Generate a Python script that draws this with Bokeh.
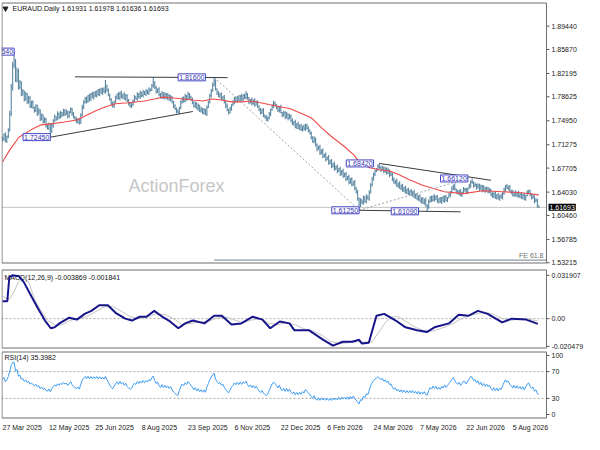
import numpy as np
from bokeh.plotting import figure
from bokeh.layouts import column
from bokeh.models import Range1d
from bokeh.core.properties import value
from bokeh.embed import file_html
from bokeh.resources import INLINE

# ---------------- data ----------------
symbol_title = "EURAUD.Daily  1.61931 1.61978 1.61636 1.61693"
macd_title = "MACD(12,26,9) -0.003869 -0.001841"
rsi_title = "RSI(14) 35.3982"
watermark = "ActionForex"

# daily closes, bar 0 = 27 Mar 2025
close = [
    1.7220, 1.7280, 1.7185, 1.7250, 1.7350, 1.7600, 1.8000, 1.8350, 1.8400, 1.8120,
    1.8260, 1.8000, 1.8080, 1.7900, 1.7950, 1.7820, 1.7900, 1.7780, 1.7850, 1.7720,
    1.7780, 1.7700, 1.7650, 1.7720, 1.7600, 1.7650, 1.7520, 1.7580, 1.7480, 1.7520,
    1.7420, 1.7380, 1.7450, 1.7330, 1.7420, 1.7500, 1.7560, 1.7520, 1.7600, 1.7550,
    1.7620, 1.7580, 1.7650, 1.7600, 1.7630, 1.7560, 1.7620, 1.7680, 1.7600, 1.7550,
    1.7520, 1.7480, 1.7520, 1.7460, 1.7580, 1.7700, 1.7780, 1.7840, 1.7790, 1.7880,
    1.7820, 1.7900, 1.7850, 1.7920, 1.7880, 1.7950, 1.7900, 1.7970, 1.7920, 1.7980,
    1.7940, 1.8030, 1.7960, 1.7900, 1.7820, 1.7760, 1.7720, 1.7780, 1.7850, 1.7900,
    1.7840, 1.7920, 1.7860, 1.7900, 1.7830, 1.7880, 1.7800, 1.7760, 1.7720, 1.7740,
    1.7800, 1.7860, 1.7830, 1.7900, 1.7860, 1.7920, 1.7880, 1.7940, 1.7900, 1.7950,
    1.7920, 1.7980, 1.7960, 1.8030, 1.8080, 1.8000, 1.7940, 1.7980, 1.7900, 1.7860,
    1.7920, 1.7850, 1.7900, 1.7840, 1.7880, 1.7820, 1.7860, 1.7780, 1.7720, 1.7680,
    1.7640, 1.7620, 1.7700, 1.7780, 1.7840, 1.7800, 1.7870, 1.7830, 1.7900, 1.7860,
    1.7820, 1.7780, 1.7720, 1.7760, 1.7680, 1.7720, 1.7650, 1.7680, 1.7620, 1.7660,
    1.7600, 1.7700, 1.7780, 1.7880, 1.7960, 1.8050, 1.8100, 1.7980, 1.7920, 1.7870,
    1.7900, 1.7830, 1.7860, 1.7780, 1.7720, 1.7660, 1.7620, 1.7680, 1.7740, 1.7780,
    1.7840, 1.7800, 1.7860, 1.7810, 1.7870, 1.7820, 1.7880, 1.7850, 1.7900, 1.7830,
    1.7780, 1.7820, 1.7760, 1.7800, 1.7740, 1.7780, 1.7720, 1.7660, 1.7620, 1.7660,
    1.7580, 1.7550, 1.7520, 1.7540, 1.7600, 1.7660, 1.7720, 1.7760, 1.7740, 1.7700,
    1.7650, 1.7700, 1.7620, 1.7580, 1.7620, 1.7550, 1.7600, 1.7530, 1.7570, 1.7500,
    1.7450, 1.7480, 1.7400, 1.7440, 1.7380, 1.7420, 1.7360, 1.7410, 1.7370, 1.7430,
    1.7380, 1.7350, 1.7300, 1.7240, 1.7180, 1.7220, 1.7120, 1.7060, 1.7100, 1.7000,
    1.7040, 1.6950, 1.6980, 1.6900, 1.6930, 1.6850, 1.6880, 1.6800, 1.6840, 1.6760,
    1.6790, 1.6720, 1.6760, 1.6680, 1.6720, 1.6650, 1.6680, 1.6600, 1.6640, 1.6550,
    1.6600, 1.6520, 1.6560, 1.6460, 1.6400, 1.6300, 1.6205, 1.6280, 1.6240, 1.6320,
    1.6260, 1.6340, 1.6300, 1.6400, 1.6520, 1.6600, 1.6680, 1.6720, 1.6760, 1.6800,
    1.6780, 1.6740, 1.6780, 1.6720, 1.6760, 1.6700, 1.6740, 1.6660, 1.6680, 1.6600,
    1.6550, 1.6580, 1.6500, 1.6530, 1.6460, 1.6500, 1.6430, 1.6470, 1.6400, 1.6440,
    1.6380, 1.6420, 1.6360, 1.6400, 1.6330, 1.6360, 1.6300, 1.6340, 1.6260, 1.6300,
    1.6240, 1.6280, 1.6200, 1.6180, 1.6260, 1.6320, 1.6280, 1.6340, 1.6290, 1.6330,
    1.6260, 1.6300, 1.6250, 1.6310, 1.6270, 1.6330, 1.6280, 1.6320, 1.6360, 1.6400,
    1.6460, 1.6500, 1.6450, 1.6410, 1.6380, 1.6420, 1.6360, 1.6400, 1.6450, 1.6440,
    1.6400, 1.6460, 1.6500, 1.6560, 1.6550, 1.6500, 1.6520, 1.6470, 1.6510, 1.6450,
    1.6490, 1.6430, 1.6470, 1.6420, 1.6460, 1.6410, 1.6440, 1.6370, 1.6340, 1.6380,
    1.6320, 1.6360, 1.6300, 1.6340, 1.6320, 1.6380, 1.6440, 1.6500, 1.6460, 1.6480,
    1.6420, 1.6400, 1.6360, 1.6400, 1.6350, 1.6390, 1.6340, 1.6370, 1.6320, 1.6360,
    1.6300, 1.6350, 1.6400, 1.6420, 1.6360, 1.6320, 1.6340, 1.6260, 1.6280, 1.61931,
    1.61693,
]

# bar extension above max(open, close) and below min(open, close), in 0.001
up_wick = [
    3, 2, 4, 2, 3, 5, 6, 5, 15, 4,   5, 3, 4, 2, 3, 1, 4, 2, 3, 2,
    2, 3, 1, 3, 2, 4, 2, 3, 1, 3,    2, 3, 2, 1, 3, 2, 3, 1, 4, 2,
    3, 1, 3, 2, 4, 2, 3, 2, 1, 3,    2, 3, 1, 2, 3, 4, 3, 2, 3, 1,
    3, 2, 4, 2, 3, 1, 3, 2, 3, 2,    3, 9, 2, 3, 1, 2, 3, 2, 3, 1,
    3, 2, 4, 1, 3, 2, 2, 3, 1, 3,    2, 3, 1, 3, 2, 4, 2, 3, 1, 3,
    2, 3, 1, 3, 8, 2, 3, 1, 3, 2,    3, 1, 3, 2, 4, 2, 3, 1, 2, 3,
    2, 3, 1, 3, 2, 3, 4, 2, 4, 2,    2, 3, 1, 3, 2, 4, 2, 3, 1, 3,
    2, 3, 2, 3, 2, 3, 6, 3, 1, 3,    2, 3, 1, 3, 2, 4, 2, 3, 1, 3,
    2, 3, 1, 3, 2, 4, 2, 3, 5, 2,    3, 1, 3, 2, 4, 2, 3, 1, 3, 2,
    3, 1, 3, 2, 3, 2, 3, 4, 3, 1,    3, 2, 4, 1, 3, 2, 3, 1, 3, 2,
    3, 1, 3, 2, 4, 2, 3, 1, 3, 2,    2, 3, 1, 3, 2, 4, 2, 3, 1, 3,
    2, 3, 1, 3, 2, 4, 2, 3, 1, 3,    2, 3, 1, 3, 2, 4, 2, 3, 1, 3,
    2, 3, 1, 3, 2, 4, 2, 3, 1, 3,    2, 3, 1, 3, 2, 4, 2, 3, 1, 3,
    4, 2, 3, 1, 3, 2, 4, 1, 3, 2,    3, 1, 3, 2, 4, 2, 3, 1, 3, 2,
    3, 1, 3, 2, 4, 2, 3, 1, 3, 2,    3, 2, 4, 1, 3, 2, 3, 1, 3, 2,
    3, 1, 3, 2, 4, 2, 3, 1, 3, 2,    3, 2, 4, 1, 3, 2, 3, 1, 3, 2,
    3, 1, 3, 2, 5, 2, 3, 1, 3, 2,    3, 2, 4, 1, 3, 2, 3, 1, 3, 2,
    3, 1, 3, 2, 4, 2, 3, 1, 3, 2,    3, 2, 4, 1, 3, 2, 3, 1, 3, 2,
    3, 1, 3, 2, 2, 2, 3, 1, 3, 2,    0.5,
]
down_wick = [
    4, 3, 2, 3, 2, 2, 3, 4, 5, 3,    4, 3, 2, 3, 2, 3, 2, 3, 2, 3,
    3, 2, 3, 2, 3, 1, 3, 2, 3, 2,    3, 2, 3, 8.5, 2, 3, 2, 3, 1, 3,
    2, 3, 1, 3, 2, 3, 2, 1, 3, 2,    3, 2, 3, 2, 1, 2, 3, 2, 3, 2,
    3, 2, 1, 3, 2, 3, 2, 3, 1, 3,    2, 3, 2, 3, 2, 3, 2, 3, 1, 3,
    2, 3, 2, 3, 1, 3, 2, 3, 2, 3,    2, 3, 1, 3, 2, 3, 2, 3, 1, 3,
    2, 3, 2, 1, 3, 2, 3, 2, 3, 2,    3, 2, 3, 1, 3, 2, 3, 2, 3, 2,
    3, 1, 2, 3, 2, 3, 2, 3, 1, 3,    2, 3, 2, 3, 1, 3, 2, 3, 2, 3,
    2, 3, 1, 2, 3, 2, 3, 2, 3, 1,    3, 2, 3, 2, 3, 2, 3, 1, 3, 2,
    3, 2, 3, 1, 3, 2, 3, 2, 3, 1,    3, 2, 3, 2, 3, 1, 3, 2, 3, 2,
    3, 2, 3, 4, 2, 3, 1, 3, 2, 3,    2, 3, 1, 3, 2, 3, 2, 3, 1, 3,
    2, 3, 2, 3, 1, 3, 2, 3, 2, 3,    2, 3, 1, 3, 2, 3, 2, 3, 1, 3,
    2, 3, 2, 3, 1, 3, 2, 3, 2, 3,    2, 3, 1, 3, 2, 3, 2, 3, 1, 3,
    2, 3, 2, 3, 2, 3, 8, 3, 2, 3,    2, 3, 1, 3, 2, 3, 2, 3, 1, 3,
    2, 3, 1, 3, 2, 3, 2, 3, 1, 3,    2, 3, 2, 3, 1, 3, 2, 3, 2, 3,
    2, 3, 1, 3, 2, 3, 2, 3, 1, 3,    2, 3, 2, 7.1, 3, 2, 3, 2, 3, 1,
    2, 3, 1, 3, 2, 3, 2, 3, 1, 3,    2, 3, 2, 3, 1, 3, 2, 3, 2, 3,
    2, 3, 1, 3, 2, 3, 2, 3, 1, 3,    2, 3, 2, 3, 1, 3, 2, 3, 2, 3,
    2, 3, 1, 3, 2, 3, 2, 3, 1, 3,    2, 3, 2, 3, 1, 3, 2, 3, 2, 3,
    2, 3, 1, 3, 2, 3, 2, 3, 1, 3,    0.5,
]

# red moving average, sampled along the drawn line (bar index, price)
ema_bar = [0, 4.7, 11.3, 20, 26.7, 33.3, 42.7, 51.3, 58, 64.7, 71.3, 78, 86.7, 98,
           104.7, 111.3, 118, 124.7, 131.3, 138, 144.7, 151.3, 158, 164.7, 171.3,
           178, 184.7, 191.3, 198, 204.7, 213.3, 220, 226.7, 236, 242.7, 246.7,
           253.3, 260, 266.7, 273.3, 280, 289.3, 304.7, 318, 331.3, 344.7, 358, 370]
ema_val = [1.6863, 1.7038, 1.7243, 1.7360, 1.7433, 1.7448, 1.7477, 1.7506, 1.7579,
           1.7653, 1.7711, 1.7755, 1.7770, 1.7799, 1.7828, 1.7857, 1.7843, 1.7828,
           1.7813, 1.7799, 1.7828, 1.7813, 1.7784, 1.7784, 1.7799, 1.7770, 1.7740,
           1.7711, 1.7682, 1.7623, 1.7536, 1.7389, 1.7258, 1.7097, 1.6965, 1.6848,
           1.6775, 1.6745, 1.6731, 1.6672, 1.6599, 1.6511, 1.6409, 1.6380, 1.6424,
           1.6409, 1.6394, 1.6360]

# MACD main line, sampled
macd_bar = [0, 3.3, 4.7, 6.7, 11.3, 14.7, 20, 24.7, 29.3, 33.3, 36, 39.3, 46, 51.3,
            56.7, 61.3, 66.7, 72.7, 78, 84.7, 89.3, 94.7, 99.3, 104.7, 109.3, 114.7,
            121.3, 126, 131.3, 139.3, 146, 151.3, 158, 164.7, 172.7, 179.3, 184.7,
            191.3, 198, 201.3, 211.3, 221.3, 228, 234.7, 241.3, 246, 248, 252.7, 258,
            263.3, 271.3, 278, 286, 292.7, 298, 308, 314.7, 321.3, 328, 334.7, 344.7,
            351.3, 361.3, 369.3]
macd_val = [0.0128, 0.0128, 0.0305, 0.0319, 0.0312, 0.0269, 0.0163, 0.0071, -0.0014,
            -0.0071, -0.0064, -0.0035, 0.0007, -0.0007, 0.0035, 0.0057, 0.0099, 0.0099,
            0.0043, 0.0000, -0.0014, 0.0014, 0.0014, 0.0057, 0.0021, -0.0014, -0.0071,
            -0.0035, -0.0014, -0.0035, 0.0021, 0.0021, -0.0043, -0.0035, 0.0014,
            -0.0007, -0.0071, -0.0021, -0.0035, -0.0085, -0.0085, -0.0156, -0.0199,
            -0.0170, -0.0170, -0.0156, -0.0184, -0.0177, 0.0021, 0.0035, -0.0014,
            -0.0064, -0.0085, -0.0099, -0.0064, -0.0035, 0.0028, 0.0021, 0.0057,
            0.0035, -0.0028, 0.0000, -0.0007, -0.0039]

# MACD signal line, sampled
signal_bar = [0, 4.7, 8, 11, 14.7, 18, 22.7, 26, 31.3, 36.7, 41, 46, 52, 58, 64, 70,
              76, 82, 88, 94, 100, 106, 112, 118, 124, 130, 136, 142, 148, 154, 160,
              166, 172, 178, 184, 190, 196, 202, 208, 214, 220, 226, 232, 238, 244,
              250, 255, 259, 264, 268, 273, 279, 285, 291, 297, 303, 309, 315, 321,
              327, 333, 339, 345, 351, 357, 363, 369.3]
signal_val = [0.0163, 0.0142, 0.0200, 0.0270, 0.0305, 0.0270, 0.0128, 0.0070, -0.0014,
              -0.0050, -0.0045, -0.0015, 0.0000, 0.0015, 0.0050, 0.0085, 0.0090, 0.0055,
              0.0015, 0.0000, 0.0010, 0.0035, 0.0030, 0.0000, -0.0045, -0.0035, -0.0025,
              -0.0020, 0.0005, 0.0012, -0.0010, -0.0030, -0.0010, 0.0000, -0.0035,
              -0.0045, -0.0030, -0.0045, -0.0075, -0.0090, -0.0120, -0.0165, -0.0185,
              -0.0178, -0.0170, -0.0172, -0.0170, -0.0110, -0.0030, 0.0010, 0.0015,
              -0.0025, -0.0065, -0.0088, -0.0092, -0.0070, -0.0045, -0.0010, 0.0018,
              0.0035, 0.0048, 0.0030, 0.0000, -0.0012, -0.0003, -0.0004, -0.0018]

# RSI(14) starting averages (gain, loss) before the first visible bar
rsi_seed = [0.0035, 0.0025]
rsi_levels = [30, 70]

# axis ticks
price_ticks = [1.89440, 1.85870, 1.82195, 1.78625, 1.74950, 1.71275, 1.67705,
               1.64030, 1.60460, 1.56785, 1.53215]
price_tick_labels = ["1.89440", "1.85870", "1.82195", "1.78625", "1.74950", "1.71275",
                     "1.67705", "1.64030", "1.60460", "1.56785", "1.53215"]
macd_ticks = [-0.020479, 0.0, 0.031907]
macd_tick_labels = ["-0.020479", "0.00", "0.031907"]
rsi_ticks = [6, 30, 70, 94]
rsi_tick_labels = ["0", "30", "70", "100"]
date_bar = [0, 32, 64, 96, 128, 160, 192, 224, 256, 288, 320, 352]
date_label = ["27 Mar 2025", "12 May 2025", "25 Jun 2025", "8 Aug 2025",
              "23 Sep 2025", "6 Nov 2025", "22 Dec 2025", "6 Feb 2026",
              "24 Mar 2026", "7 May 2026", "22 Jun 2026", "5 Aug 2026"]

# swing labels (text, bar of right edge, price)
swing_text = ["1.85540", "1.72450", "1.81600", "1.61250", "1.68420", "1.61090", "1.66120"]
swing_bar = [8, 33, 140, 246, 256, 287, 321]
swing_price = [1.8554, 1.7245, 1.8160, 1.6125, 1.6842, 1.6109, 1.6612]

# solid trend lines (bar0, price0, bar1, price1)
trend_b0 = [50, 33.3, 260, 246]
trend_p0 = [1.8168, 1.7245, 1.6842, 1.6125]
trend_b1 = [155.3, 131.3, 337, 316]
trend_p1 = [1.8156, 1.7637, 1.6584, 1.6101]
# dashed projection lines
dash_b0 = [146, 246]
dash_p0 = [1.8160, 1.6125]
dash_b1 = [246, 321]
dash_p1 = [1.6125, 1.6612]
fe_level = 1.5363
fe_start_bar = 146
fe_text = "FE 61.8"

# ---------------- derived series ----------------
c = np.array(close, dtype=float)
assert len(c) == len(up_wick) == len(down_wick)
o = np.concatenate([[c[0]], c[:-1]])
hi = np.maximum(o, c) + np.array(up_wick, dtype=float) / 1000.0
lo = np.minimum(o, c) - np.array(down_wick, dtype=float) / 1000.0
idx = np.arange(len(c), dtype=float)

ag, al = rsi_seed
rsi = [100 - 100 / (1 + ag / al)]
for i in range(1, len(c)):
    d = c[i] - c[i - 1]
    ag = (ag * 13 + max(d, 0.0)) / 14
    al = (al * 13 + max(-d, 0.0)) / 14
    rsi.append(100 - 100 / (1 + ag / al))

# ---------------- layout ----------------
W = 584
LB = 1
PANEL_W = 545                     # width of the drawing box inside each panel
X0, X1 = -0.7, 375.3              # bar range shown in the drawing box
PX_PER_BAR = PANEL_W / (X1 - X0)
XFULL = X0 + (W - LB) / PX_PER_BAR
FONT = "Liberation Sans"
FS = "7px"
BAR_COL = "#5a87a2"
FRAME_COL = "#6f6f6f"
TXT = "#222222"

x_range = Range1d(X0, XFULL)


def bx(px):
    return px / PX_PER_BAR


def xpos(px_from_left):
    return X0 + bx(px_from_left)


class Panel:
    def __init__(self, height, top, bottom, lo_val, hi_val):
        self.ppx = (hi_val - lo_val) / (height - top - bottom)
        self.lo, self.hi = lo_val, hi_val
        yr = Range1d(lo_val - bottom * self.ppx, hi_val + top * self.ppx)
        f = figure(width=W, height=height, x_range=x_range, y_range=yr,
                   output_backend="svg", toolbar_location=None,
                   x_axis_location=None, y_axis_location=None,
                   min_border_left=LB, min_border_right=0, min_border_top=0,
                   min_border_bottom=0, outline_line_color=None,
                   background_fill_color="white", border_fill_color="white")
        f.grid.visible = False
        self.f = f

    def y_below_top(self, px):
        return self.hi - px * self.ppx

    def box(self):
        t = self.hi - 0.5 * self.ppx
        b = self.lo + 0.5 * self.ppx
        l = X0 + bx(0.5)
        self.f.segment(x0=[l, l, l, X1], y0=[t, b, b, b], x1=[X1, X1, l, X1],
                       y1=[t, b, t, t], line_color=FRAME_COL, line_width=1)

    def scale(self, ticks, labels):
        n = len(ticks)
        self.f.segment(x0=[X1] * n, y0=ticks, x1=[X1 + bx(3)] * n, y1=ticks,
                       line_color="#555555", line_width=1)
        self.f.text(x=[X1 + bx(5)] * n, y=ticks, text=labels, text_align="left",
                    text_baseline="middle", text_font=value(FONT),
                    text_font_size=value(FS), text_color=TXT)

    def hline(self, level, color, dash="solid", width=1):
        self.f.segment(x0=[X0], y0=[level], x1=[X1], y1=[level], line_color=color,
                       line_width=width, line_dash=dash)

    def title(self, txt, px_left, px_down):
        self.f.text(x=[xpos(px_left)], y=[self.y_below_top(px_down)], text=[txt],
                    text_align="left", text_baseline="middle", text_font=value(FONT),
                    text_font_size=value(FS), text_color="#111111")


# ---- main price panel ----
main = Panel(267, 2, 4, 1.5310, 1.9306)
p = main.f
main.scale(price_ticks, price_tick_labels)

p.text(x=[xpos(175)], y=[1.6497], text=[watermark], text_align="center",
       text_baseline="middle", text_font=value(FONT), text_font_size=value("18px"),
       text_color="#c6c6c6")
main.hline(float(c[-1]), "#c4c4c4")
p.segment(x0=[fe_start_bar], y0=[fe_level], x1=[X1], y1=[fe_level],
          line_color="#8d9ba6", line_width=1.3)
p.text(x=[xpos(PANEL_W - 3)], y=[fe_level], y_offset=-1, text=[fe_text],
       text_align="right", text_baseline="bottom", text_font=value(FONT),
       text_font_size=value(FS), text_color="#6f6f6f")

p.segment(x0=idx, y0=lo, x1=idx, y1=hi, line_color=BAR_COL, line_width=1.1)
p.segment(x0=idx - 0.45, y0=o, x1=idx, y1=o, line_color=BAR_COL, line_width=1)
p.segment(x0=idx, y0=c, x1=idx + 0.45, y1=c, line_color=BAR_COL, line_width=1)

p.line(ema_bar, ema_val, line_color="#f04848", line_width=1.1)

p.segment(x0=dash_b0, y0=dash_p0, x1=dash_b1, y1=dash_p1, line_color="#9aa3aa",
          line_width=1, line_dash="2 2")
p.segment(x0=trend_b0, y0=trend_p0, x1=trend_b1, y1=trend_p1, line_color="#3a3a3a",
          line_width=1)

p.text(x=swing_bar, y=swing_price, text=swing_text, text_align="right",
       text_baseline="middle", text_font=value(FONT), text_font_size=value(FS),
       text_color="#3434b4", background_fill_color="white",
       border_line_color="#4646c4", border_line_width=1, padding=1)
main.box()

p.scatter(x=[xpos(4)], y=[main.y_below_top(6)], marker="inverted_triangle",
          size=5, color=TXT)
main.title(symbol_title, 11, 6)
# last-price tag on the price scale
p.text(x=[X1 + bx(2)], y=[c[-1]], text=[f"{c[-1]:.5f}"], text_align="left",
       text_baseline="middle", text_font=value(FONT), text_font_size=value(FS),
       text_color="white", background_fill_color="black", padding=1)

# ---- MACD panel ----
macd = Panel(82, 2, 1, -0.0220, 0.0362)
p2 = macd.f
macd.scale(macd_ticks, macd_tick_labels)
macd.hline(0.0, "#a8a8a8", "2 2")
macd.title(macd_title, 3, 8)
p2.line(signal_bar, signal_val, line_color="#c4c4c4", line_width=1)
p2.line(macd_bar, macd_val, line_color="#16168a", line_width=2)
macd.box()

# ---- RSI panel ----
rsip = Panel(71, 2, 2, 0, 100)
p3 = rsip.f
rsip.scale(rsi_ticks, rsi_tick_labels)
for lv in rsi_levels:
    rsip.hline(lv, "#a8a8a8", "2 2")
rsip.title(rsi_title, 3, 6)
p3.line(idx, rsi, line_color="#3d9cf2", line_width=1)
rsip.box()

# ---- date strip ----
p4 = figure(width=W, height=13, x_range=x_range, y_range=Range1d(0, 1),
            output_backend="svg", toolbar_location=None,
            x_axis_location=None, y_axis_location=None,
            min_border_left=LB, min_border_right=0, min_border_top=0,
            min_border_bottom=0, outline_line_color=None,
            background_fill_color="white", border_fill_color="white")
p4.grid.visible = False
p4.text(x=date_bar, y=[0.5] * len(date_bar), text=date_label, text_align="left",
        text_baseline="middle", text_font=value(FONT), text_font_size=value(FS),
        text_color=TXT)

layout = column(p, p2, p3, p4, spacing=0)
open("out.html", "w").write(file_html(layout, INLINE))
